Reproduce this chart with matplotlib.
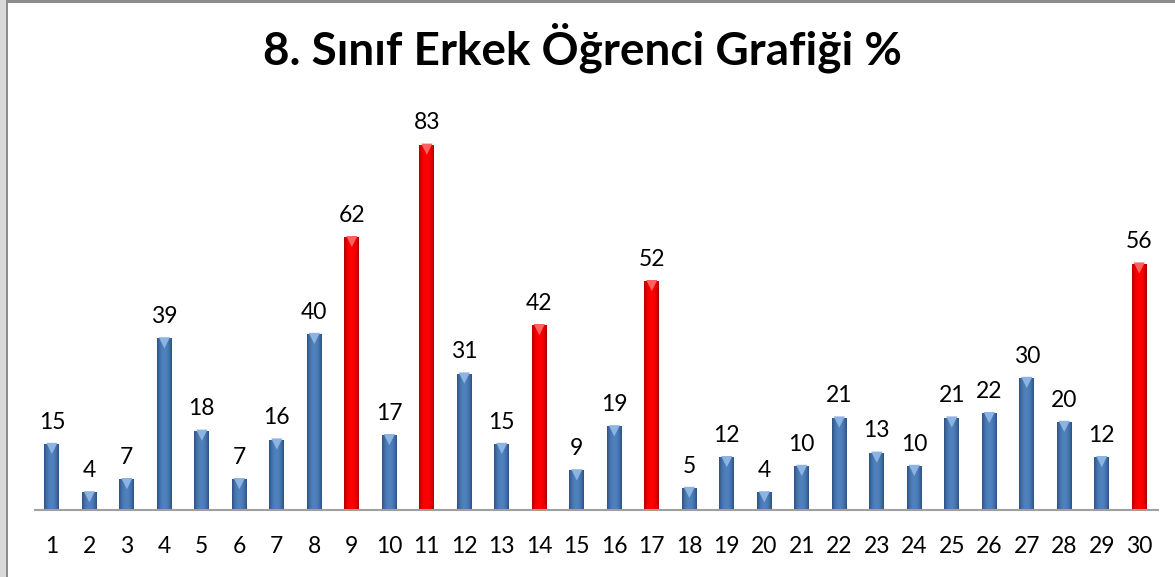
import numpy as np
import matplotlib.pyplot as plt
from matplotlib.patches import Rectangle

# student numbers and percentages
students = [str(i) for i in range(1, 31)]
values = [15, 4, 7, 39, 18, 7, 16, 40, 62, 17, 83, 31, 15, 42, 9,
          19, 52, 5, 12, 4, 10, 21, 13, 10, 21, 22, 30, 20, 12, 56]
highlighted = ["9", "11", "14", "17", "30"]

title = "8. Sınıf Erkek Öğrenci Grafiği %"

plt.rcParams["font.family"] = ["Lato", "DejaVu Sans"]

W, H = 1175, 577
fig = plt.figure(figsize=(W / 100, H / 100), dpi=100)

# grey frame like the office chart area
fig.patches.append(Rectangle((0, 0), 6 / W, 1, transform=fig.transFigure,
                             facecolor="#d9d9d9", edgecolor="none"))
fig.patches.append(Rectangle((6 / W, 0), 2 / W, 1, transform=fig.transFigure,
                             facecolor="#8c8c8c", edgecolor="none"))
fig.patches.append(Rectangle((6 / W, 1 - 3 / H), 1, 3 / H, transform=fig.transFigure,
                             facecolor="#8c8c8c", edgecolor="none"))

# axes in pixel terms: baseline at y=510, x from 35 to 1158
left, right = 35, 1158
bottom_px, top_px = 510, 100
ax = fig.add_axes([left / W, 1 - bottom_px / H, (right - left) / W,
                   (bottom_px - top_px) / H])

x = np.arange(len(values))
colors = ["#ff0000" if s in highlighted else "#4f81bd" for s in students]
dark = ["#b00000" if s in highlighted else "#2c5182" for s in students]
light = ["#ff6060" if s in highlighted else "#8db3e2" for s in students]

bars = ax.bar(x, values, width=0.4, color=colors, edgecolor="none", zorder=2)

# gradient to give the bevelled look
grad = np.linspace(-1, 1, 64)
grad = 1 - 0.45 * np.abs(grad) ** 2.2
for b, c, d in zip(bars, colors, dark):
    cmap = plt.matplotlib.colors.LinearSegmentedColormap.from_list("g", [d, c])
    im = ax.imshow(grad[np.newaxis, :], cmap=cmap, vmin=0.55, vmax=1.0,
                   extent=[b.get_x(), b.get_x() + b.get_width(), 0, b.get_height()],
                   aspect="auto", zorder=3)
    im.set_clip_path(b)

# little triangle on top of each bar
for xi, v, lc in zip(x, values, light):
    ax.scatter(xi, v - 1.0, marker="v", s=65, color=lc, edgecolors="none", zorder=4)

for xi, v in zip(x, values):
    ax.text(xi, v + 2.6, str(v), ha="center", va="bottom", fontsize=16.5, color="black")

ax.set_xlim(-0.45, len(values) - 0.5)
ax.set_ylim(0, 410 / 4.4)
ax.set_xticks(x)
ax.set_xticklabels(students, fontsize=16.5)
ax.tick_params(axis="x", length=0, pad=19)
ax.set_yticks([])
for s in ["left", "right", "top"]:
    ax.spines[s].set_visible(False)
ax.spines["bottom"].set_color("#a0a0a0")
ax.spines["bottom"].set_linewidth(1.5)
ax.spines["bottom"].set_zorder(5)

fig.text(0.5 - 5 / W, 1 - 48 / H, title, ha="center", va="center",
         fontsize=33, fontweight="bold", color="black")

fig.savefig("out.png", dpi=100)
plt.close()
